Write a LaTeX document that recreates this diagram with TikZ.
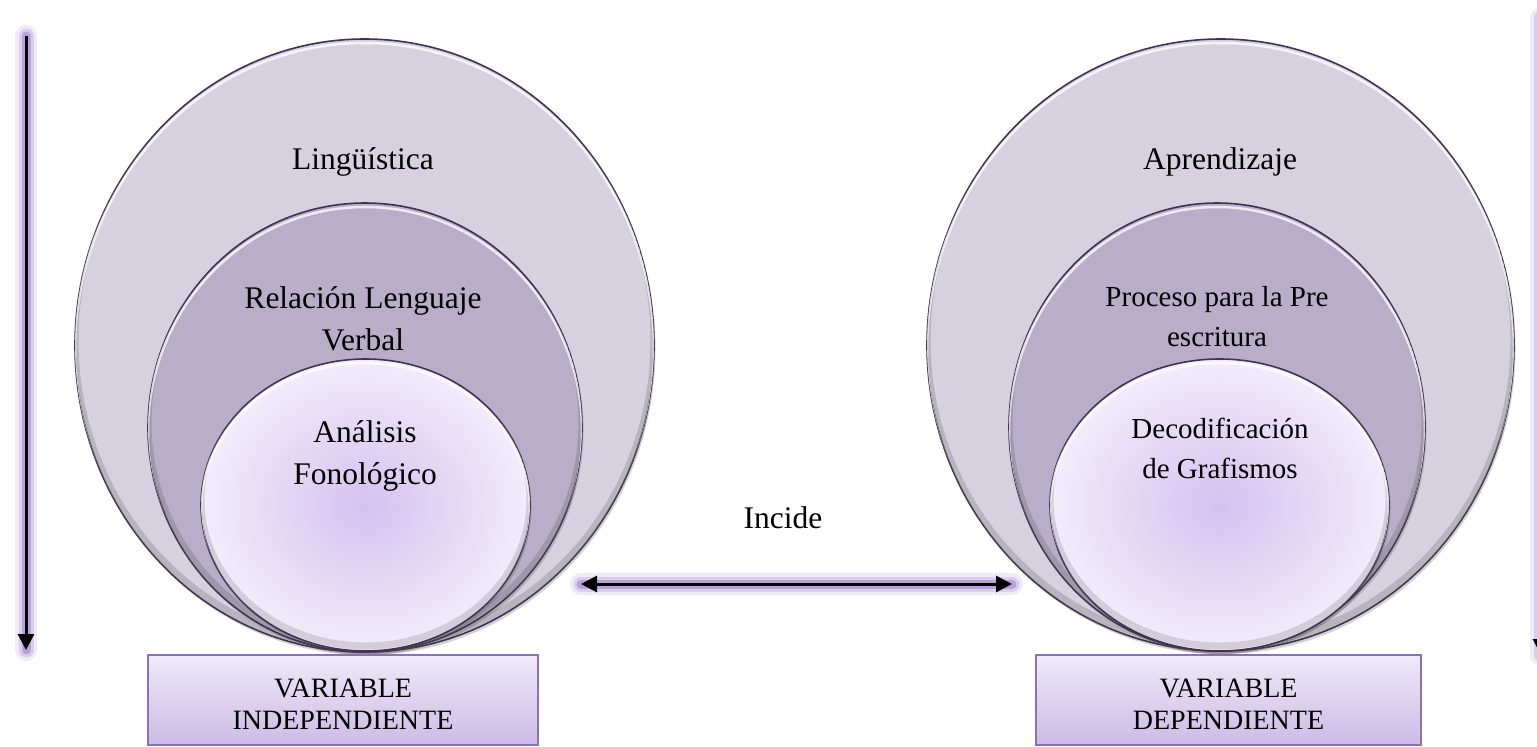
\documentclass[tikz,border=0pt]{standalone}
\usepackage{fontspec}
\setmainfont{Liberation Serif}
\usetikzlibrary{arrows.meta,shadows,shapes.geometric}
\definecolor{outerfill}{HTML}{D6D1DF}
\definecolor{midfill}{HTML}{B9AEC9}
\definecolor{innerc}{HTML}{D4C2EF}
\definecolor{innero}{HTML}{F2ECFB}
\definecolor{edgec}{HTML}{3E3352}
\definecolor{glowc}{HTML}{9678C8}
\definecolor{boxtop}{HTML}{EFEAF8}
\definecolor{boxbot}{HTML}{CBBBE6}
\definecolor{boxedge}{HTML}{8C72B5}
% emboss: highlight at top inside, soft shade at bottom inside
\newcommand\emboss[4]{% center, xr, yr, shade colour
  \begin{scope}
    \clip #1 ellipse [x radius=#2, y radius=#3];
    \draw[#4, line width=7pt, opacity=0.30] #1 ++(0,-5) ellipse [x radius=#2, y radius=#3];
    \draw[white, line width=2.5pt, opacity=0.75] #1 ++(0,4) ellipse [x radius=#2, y radius=#3];
  \end{scope}}
\begin{document}
\begin{tikzpicture}[x=1pt,y=-1pt,
  ellbase/.style={ellipse, draw=edgec, line width=1.6pt, inner sep=0pt,
    drop shadow={shadow xshift=1.5pt, shadow yshift=-3pt, opacity=0.25, fill=black!70}},
  outerell/.style={ellbase, fill=outerfill},
  midell/.style={ellbase, fill=midfill},
  innerell/.style={ellbase, inner color=innerc, outer color=innero},
  lbl/.style={font=\fontsize{31.5}{42}\selectfont, align=center, inner sep=0pt},
  lbls/.style={font=\fontsize{29}{40}\selectfont, align=center, inner sep=0pt},
  vbox/.style={rectangle, draw=boxedge, line width=1.5pt, top color=boxtop, bottom color=boxbot,
    inner sep=0pt, minimum height=90pt},
  boxtxt/.style={font=\fontsize{28}{32}\selectfont, align=center, inner sep=0pt},
  glowarrow/.style={draw=black, line width=3pt,
    preaction={draw=glowc, line width=22pt, opacity=0.14, line cap=round, arrows=-},
    preaction={draw=glowc, line width=15pt, opacity=0.25, line cap=round, arrows=-},
    preaction={draw=glowc, line width=9pt, opacity=0.5, line cap=round, arrows=-}},
  tip/.style={arrows={-Triangle[length=16pt,width=16pt]}},
  tips/.style={arrows={Triangle[length=16pt,width=16pt]-Triangle[length=16pt,width=16pt]}}
]
\clip (0,0) rectangle (1537,747);
\fill[white] (0,0) rectangle (1537,747);

% left group
\node[outerell, minimum width=579pt, minimum height=613pt] (L1) at (364.5,345.5) {};
\emboss{(L1.center)}{289.5}{306.5}{black!55}
\node[midell, minimum width=434pt, minimum height=449pt] (L2) at (365,427.5) {};
\emboss{(L2.center)}{217}{224.5}{black!60}
\node[innerell, minimum width=329pt, minimum height=292pt] (L3) at (365.5,505) {};
\emboss{(L3.center)}{164.5}{146}{black!45}

% right group
\node[outerell, minimum width=587pt, minimum height=612pt] (R1) at (1220.5,345) {};
\emboss{(R1.center)}{293.5}{306}{black!55}
\node[midell, minimum width=416pt, minimum height=448pt] (R2) at (1217,427) {};
\emboss{(R2.center)}{208}{224}{black!60}
\node[innerell, minimum width=339pt, minimum height=292pt] (R3) at (1219.5,505) {};
\emboss{(R3.center)}{169.5}{146}{black!45}

% texts
\node[lbl] (tL1) at (363,162) {Lingüística};
\node[lbl] (tL2) at (363,319) {Relación Lenguaje\\Verbal};
\node[lbl] (tL3) at (365,456) {Análisis\\Fonológico};
\node[lbl] (tR1) at (1220,162) {Aprendizaje};
\node[lbls] (tR2) at (1217,317) {Proceso para la Pre\\escritura};
\node[lbls] (tR3) at (1220,448) {Decodificación\\de Grafismos};
\node[lbl] (inc) at (783,518) {Incide};

% boxes
\node[vbox, minimum width=390pt] (B1) at (343,700) {};
\node[boxtxt] (B1t) at (343,704) {VARIABLE\\INDEPENDIENTE};
\node[vbox, minimum width=385pt] (B2) at (1228.5,700) {};
\node[boxtxt] (B2t) at (1228.5,704) {VARIABLE\\DEPENDIENTE};

% arrows
\coordinate (a1s) at (26,36);
\coordinate (a1e) at (26,650);
\coordinate (a2s) at (1541,18);
\coordinate (a2e) at (1541,655);
\coordinate (d1) at (581,584);
\coordinate (d2) at (1012,584);
\draw[glowarrow, tip] (a1s) -- (a1e);
\draw[glowarrow, tip] (a2s) -- (a2e);
\draw[glowarrow, tips] (d1) -- (d2);
\end{tikzpicture}
\end{document}
